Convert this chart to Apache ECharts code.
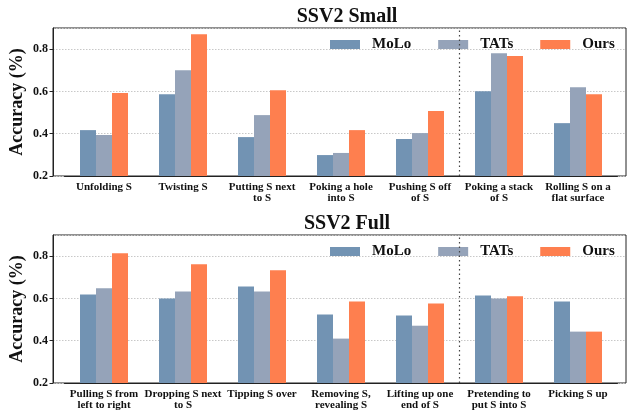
<!DOCTYPE html>
<html>
<head>
<meta charset="utf-8">
<script src="https://cdn.jsdelivr.net/npm/echarts@6/dist/echarts.min.js"></script>
<style>
  html, body { margin: 0; padding: 0; background: #fff; }
  #chart { width: 631px; height: 413px; }
</style>
</head>
<body>
<div id="chart"></div>
<script>
var methods = ['MoLo', 'TATs', 'Ours'];
var colors = ['#7293b3', '#95a3b9', '#fe7f4f'];

var smallCats = ['Unfolding S', 'Twisting S', 'Putting S next\nto S', 'Poking a hole\ninto S',
    'Pushing S off\nof S', 'Poking a stack\nof S', 'Rolling S on a\nflat surface'];
var smallMoLo = [0.417, 0.587, 0.384, 0.299, 0.375, 0.601, 0.450];
var smallTATs = [0.394, 0.700, 0.488, 0.309, 0.403, 0.781, 0.620];
var smallOurs = [0.592, 0.871, 0.606, 0.417, 0.507, 0.767, 0.587];

var fullCats = ['Pulling S from\nleft to right', 'Dropping S next\nto S', 'Tipping S over',
    'Removing S,\nrevealing S', 'Lifting up one\nend of S', 'Pretending to\nput S into S', 'Picking S up'];
var fullMoLo = [0.619, 0.600, 0.657, 0.524, 0.519, 0.614, 0.586];
var fullTATs = [0.648, 0.633, 0.633, 0.410, 0.471, 0.600, 0.443];
var fullOurs = [0.814, 0.762, 0.733, 0.586, 0.576, 0.610, 0.443];

var titles = ['SSV2 Small', 'SSV2 Full'];
var separatorAt = 4.5;

var font = 'Liberation Serif';
var panelTop = [28, 235];
var panelH = 148;

var chart = echarts.init(document.getElementById('chart'));

var grids = [], xAxes = [], yAxes = [], series = [], titleList = [], legends = [];

function addPanel(p, cats, vals) {
    var top = panelTop[p];
    // frame grid: box, y labels, gridlines, separator
    grids.push({left: 53, right: 5, top: top, height: panelH, show: true,
        containLabel: false, outerBoundsMode: 'none',
        borderColor: '#222', borderWidth: 1, backgroundColor: 'transparent'});
    // data grid: bars
    grids.push({left: 64.5, width: 553, top: top, height: panelH,
        containLabel: false, outerBoundsMode: 'none'});
    var gf = p * 2, gd = p * 2 + 1;

    xAxes.push({gridIndex: gf, type: 'value', min: -51 / 79, max: -51 / 79 + 573 / 79, show: false});
    xAxes.push({gridIndex: gd, type: 'category', data: cats,
        axisLine: {lineStyle: {color: '#222'}},
        axisTick: {alignWithLabel: true, length: 3.5, lineStyle: {color: '#222'}},
        axisLabel: {interval: 0, margin: 6, fontFamily: font, fontWeight: 'bold', fontSize: 11,
            color: '#111', lineHeight: 11}
    });

    yAxes.push({gridIndex: gf, type: 'value', min: 0.2, max: 0.9, interval: 0.2,
        name: 'Accuracy (%)', nameLocation: 'middle', nameGap: 27, nameRotate: 90,
        nameMoveOverlap: false,
        nameTextStyle: {fontFamily: font, fontWeight: 'bold', fontSize: 18, color: '#111'},
        axisLine: {show: true, onZero: false, lineStyle: {color: '#222'}},
        axisTick: {show: true, length: 3.5, lineStyle: {color: '#222'}},
        axisLabel: {margin: 5, showMaxLabel: false, fontFamily: font, fontWeight: 'bold',
            fontSize: 12, color: '#111',
            formatter: function(v) { return v.toFixed(1); }},
        splitLine: {show: true, lineStyle: {color: '#c8c8c8', type: [1.5, 1.5], width: 1}}
    });
    yAxes.push({gridIndex: gd, type: 'value', min: 0.2, max: 0.9, show: false});

    series.push({type: 'line', xAxisIndex: p * 2, yAxisIndex: p * 2, data: [],
        silent: true,
        markLine: {symbol: 'none', silent: true, label: {show: false},
            lineStyle: {color: '#444', type: [1.5, 3], width: 1.2},
            data: [{xAxis: separatorAt}]}
    });

    methods.forEach(function(m, i) {
        series.push({type: 'bar', name: m, xAxisIndex: p * 2 + 1, yAxisIndex: p * 2 + 1,
            data: vals[i], barWidth: 16, barGap: '0%',
            itemStyle: {color: colors[i]}
        });
    });

    titleList.push({text: titles[p], left: 342, top: top - 26, textAlign: 'center',
        textStyle: {fontFamily: font, fontWeight: 'bold', fontSize: 20, color: '#111'}});

    legends.push({data: methods, left: 325, top: top + 4, itemWidth: 30, itemHeight: 9,
        itemGap: 27, icon: 'rect',
        textStyle: {fontFamily: font, fontWeight: 'bold', fontSize: 15, color: '#111',
            padding: [0, 0, 0, 7]}
    });
}

addPanel(0, smallCats, [smallMoLo, smallTATs, smallOurs]);
addPanel(1, fullCats, [fullMoLo, fullTATs, fullOurs]);

chart.setOption({
    animation: false,
    title: titleList,
    legend: legends,
    grid: grids,
    xAxis: xAxes,
    yAxis: yAxes,
    series: series
});
</script>
</body>
</html>
